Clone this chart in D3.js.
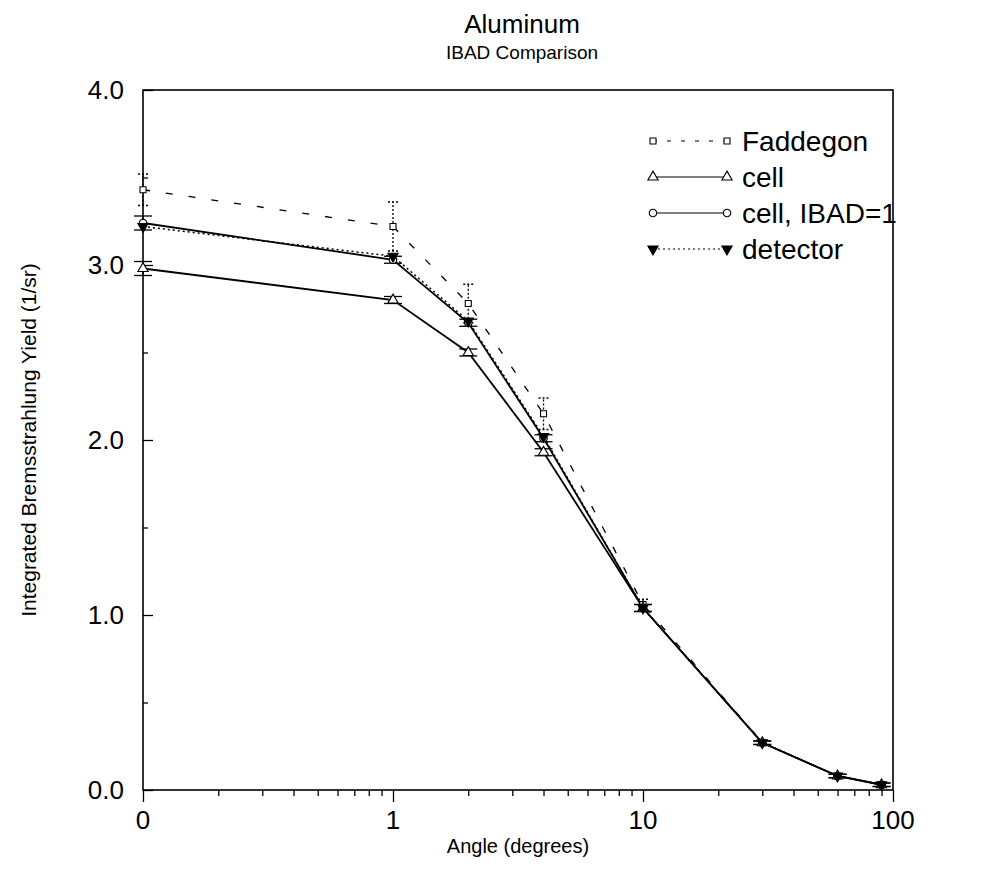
<!DOCTYPE html>
<html>
<head>
<meta charset="utf-8">
<script src="https://cdn.jsdelivr.net/npm/d3@7"></script>
<style>
  body { margin: 0; background: #fff; }
  text { font-family: "Liberation Sans", Arial, sans-serif; fill: #000; }
</style>
</head>
<body>
<script>
// angles in degrees, 0 is drawn at the left edge (0.1 on the log axis)
let angles = [0, 1, 2, 4, 10, 30, 60, 90]

let faddegon = [3.43, 3.22, 2.78, 2.15, 1.06, 0.27, 0.08, 0.03]
let faddegonErr = [0.09, 0.14, 0.11, 0.09, 0.03, 0.01, 0.01, 0.01]
let cell = [2.98, 2.80, 2.50, 1.93, 1.04, 0.27, 0.08, 0.03]
let cellErr = [0.04, 0.02, 0.02, 0.02, 0.02, 0.01, 0.01, 0.01]
let cellIbad = [3.24, 3.03, 2.67, 2.01, 1.04, 0.27, 0.08, 0.03]
let cellIbadErr = [0.04, 0.02, 0.02, 0.02, 0.02, 0.01, 0.01, 0.01]
let detector = [3.22, 3.05, 2.68, 2.02, 1.04, 0.27, 0.08, 0.03]

let yTicks = [0, 1, 2, 3, 4]
let yMinor = [0.5, 1.5, 2.5, 3.5]
let xTicks = [0.1, 1, 10, 100]
let xTickLabels = ["0", "1", "10", "100"]

var width = 986, height = 869
var margin = { top: 90, right: 93, bottom: 79, left: 143 }

var svg = d3.select("body").append("svg")
    .attr("width", width)
    .attr("height", height)

var x = d3.scaleLog()
    .domain([0.1, 100])
    .range([margin.left, width - margin.right])

var y = d3.scaleLinear()
    .domain([0, 4])
    .range([height - margin.bottom, margin.top])

const xa = (a) => x(a === 0 ? 0.1 : a)

// frame
svg.append("rect")
    .attr("x", margin.left)
    .attr("y", margin.top)
    .attr("width", x(100) - x(0.1))
    .attr("height", y(0) - y(4))
    .attr("fill", "none")
    .attr("stroke", "#000")
    .attr("stroke-width", 1.6)

// y axis ticks (inside)
svg.append("g").attr("transform", `translate(${margin.left},0)`)
    .call(d3.axisRight(y).tickValues(yTicks).tickSize(10).tickFormat(""))
    .call(g => g.select(".domain").remove())
svg.append("g").attr("transform", `translate(${margin.left},0)`)
    .call(d3.axisRight(y).tickValues(yMinor).tickSize(5).tickFormat(""))
    .call(g => g.select(".domain").remove())

svg.selectAll(".ylab").data(yTicks).enter().append("text")
    .attr("class", "ylab")
    .attr("x", margin.left - 19)
    .attr("y", d => y(d) + 9)
    .attr("text-anchor", "end")
    .style("font-size", "26px")
    .text(d => d.toFixed(1))

// x axis ticks (outside, below)
let xMinor = []
;[0.1, 1, 10].forEach(dec => { for (let k = 2; k <= 9; k++) xMinor.push(dec * k) })

svg.append("g").attr("transform", `translate(0,${y(0)})`)
    .call(d3.axisBottom(x).tickValues(xMinor).tickSize(6).tickFormat(""))
    .call(g => g.select(".domain").remove())
svg.append("g").attr("transform", `translate(0,${y(0)})`)
    .call(d3.axisBottom(x).tickValues(xTicks).tickSize(12).tickFormat(""))
    .call(g => g.select(".domain").remove())

svg.selectAll(".xlab").data(xTicks).enter().append("text")
    .attr("class", "xlab")
    .attr("x", d => x(d))
    .attr("y", y(0) + 39)
    .attr("text-anchor", "middle")
    .style("font-size", "26px")
    .text((d, i) => xTickLabels[i])

svg.selectAll(".tick line").attr("stroke", "#000").attr("stroke-width", 1.3)

// titles
svg.append("text").attr("x", 522).attr("y", 33).attr("text-anchor", "middle")
    .style("font-size", "26px").text("Aluminum")
svg.append("text").attr("x", 522).attr("y", 59).attr("text-anchor", "middle")
    .style("font-size", "19px").text("IBAD Comparison")
svg.append("text").attr("x", 518).attr("y", 853).attr("text-anchor", "middle")
    .style("font-size", "20px").text("Angle (degrees)")
svg.append("text")
    .attr("transform", `translate(36,${(y(0) + y(4)) / 2}) rotate(-90)`)
    .attr("text-anchor", "middle")
    .style("font-size", "21px")
    .text("Integrated Bremsstrahlung Yield (1/sr)")

const line = d3.line().x((d, i) => xa(angles[i])).y(d => y(d))

function errorBars(vals, errs, dash, cap) {
    let g = svg.append("g")
    vals.forEach((v, i) => {
        let cx = xa(angles[i])
        g.append("line")
            .attr("x1", cx).attr("x2", cx)
            .attr("y1", y(v - errs[i])).attr("y2", y(v + errs[i]))
            .attr("stroke", "#000").attr("stroke-width", 1.3)
            .attr("stroke-dasharray", dash)
        if (cap) {
            ;[v - errs[i], v + errs[i]].forEach(e => {
                g.append("line")
                    .attr("x1", cx - cap).attr("x2", cx + cap)
                    .attr("y1", y(e)).attr("y2", y(e))
                    .attr("stroke", "#000").attr("stroke-width", 1.3)
                    .attr("stroke-dasharray", dash)
            })
        }
    })
}

// series lines
svg.append("path").datum(faddegon).attr("d", line)
    .attr("fill", "none").attr("stroke", "#000").attr("stroke-width", 1.3)
    .attr("stroke-dasharray", "7,16")
svg.append("path").datum(detector).attr("d", line)
    .attr("fill", "none").attr("stroke", "#000").attr("stroke-width", 1.5)
    .attr("stroke-dasharray", "2,3")
svg.append("path").datum(cell).attr("d", line)
    .attr("fill", "none").attr("stroke", "#000").attr("stroke-width", 1.8)
svg.append("path").datum(cellIbad).attr("d", line)
    .attr("fill", "none").attr("stroke", "#000").attr("stroke-width", 1.8)

errorBars(faddegon, faddegonErr, "2,2", 5)
errorBars(cell, cellErr, null, 9)
errorBars(cellIbad, cellIbadErr, null, 9)

// markers
const sym = (type, size) => d3.symbol().type(type).size(size)

function markers(vals, path, filled, rot) {
    svg.append("g").selectAll("path").data(vals).enter().append("path")
        .attr("d", path)
        .attr("transform", (d, i) => `translate(${xa(angles[i])},${y(d)})` + (rot ? " rotate(180)" : ""))
        .attr("fill", filled ? "#000" : "#fff")
        .attr("stroke", "#000")
        .attr("stroke-width", 1.1)
}

markers(faddegon, sym(d3.symbolSquare, 36)(), false)
markers(cell, sym(d3.symbolTriangle, 45)(), false)
markers(cellIbad, sym(d3.symbolCircle, 45)(), false)
markers(detector, sym(d3.symbolTriangle, 45)(), true, true)

// legend
let legendNames = ["Faddegon", "cell", "cell, IBAD=1", "detector"]
let legendDash = ["4,10", null, null, "2,3"]
let legendSym = [d3.symbolSquare, d3.symbolTriangle, d3.symbolCircle, d3.symbolTriangle]
let legendFill = [false, false, false, true]

legendNames.forEach((name, i) => {
    let ly = 141 + i * 36
    let lg = svg.append("g")
    lg.append("line").attr("x1", 653).attr("x2", 727).attr("y1", ly).attr("y2", ly)
        .attr("stroke", "#000").attr("stroke-width", 1.2)
        .attr("stroke-dasharray", legendDash[i])
    ;[653, 727].forEach(lx => {
        lg.append("path")
            .attr("d", sym(legendSym[i], i === 0 ? 36 : 45)())
            .attr("transform", `translate(${lx},${ly})` + (i === 3 ? " rotate(180)" : ""))
            .attr("fill", legendFill[i] ? "#000" : "#fff")
            .attr("stroke", "#000").attr("stroke-width", 1.1)
    })
    lg.append("text").attr("x", 742).attr("y", ly + 10)
        .style("font-size", "28px").text(name)
})
</script>
</body>
</html>
